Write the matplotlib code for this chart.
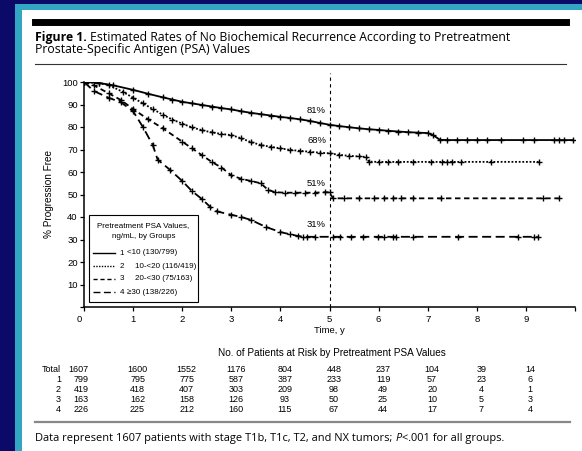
import matplotlib
matplotlib.use("Agg")
import matplotlib.pyplot as plt
from matplotlib.patches import Rectangle
from matplotlib.lines import Line2D
from matplotlib.transforms import blended_transform_factory, ScaledTranslation

W, H = 582, 451

# Kaplan-Meier curves (years, % progression free)
t1 = [0, 0.3, 0.6, 1.0, 1.3, 1.6, 1.8, 2.0, 2.2, 2.4, 2.6, 2.8, 3.0, 3.2, 3.4, 3.6, 3.8, 4.0, 4.2,
      4.4, 4.6, 4.8, 5.0, 5.2, 5.4, 5.6, 5.8, 6.0, 6.2, 6.4, 6.6, 6.8, 7.0, 7.1, 7.25, 7.4, 7.6, 7.8,
      8.0, 8.2, 8.5, 8.94, 9.16, 9.57, 9.67, 9.78, 9.96]
s1 = [100, 99.6, 98.5, 96.5, 94.8, 93.2, 92.2, 91.2, 90.5, 89.8, 89.1, 88.4, 87.8, 87.0, 86.3, 85.7,
      85.1, 84.5, 84.0, 83.4, 82.7, 81.8, 81.0, 80.4, 79.9, 79.4, 79.0, 78.7, 78.3, 78.0, 77.7, 77.5,
      77.3, 76.5, 74.3, 74.2, 74.2, 74.2, 74.2, 74.2, 74.2, 74.2, 74.2, 74.2, 74.2, 74.2, 74.2]

t2 = [0, 0.3, 0.5, 0.8, 1.0, 1.2, 1.4, 1.6, 1.8, 2.0, 2.2, 2.4, 2.6, 2.8, 3.0, 3.2, 3.4, 3.6, 3.8,
      4.0, 4.2, 4.4, 4.6, 4.8, 5.0, 5.2, 5.4, 5.6, 5.75, 5.8, 6.0, 6.2, 6.4, 6.7, 7.06, 7.3, 7.4,
      7.5, 7.67, 8.29, 9.27]
s2 = [100, 99.5, 98.7, 95.5, 93.0, 90.5, 88.0, 85.5, 83.3, 81.5, 79.8, 78.6, 77.6, 76.9, 76.4, 75.0,
      73.3, 72.0, 71.2, 70.5, 69.8, 69.4, 69.0, 68.6, 68.3, 67.6, 67.2, 66.9, 66.7, 64.6, 64.5, 64.5,
      64.5, 64.5, 64.5, 64.5, 64.5, 64.5, 64.5, 64.5, 64.5]

t3 = [0, 0.2, 0.5, 0.75, 1.0, 1.3, 1.6, 2.0, 2.2, 2.4, 2.6, 2.8, 3.0, 3.2, 3.4, 3.6, 3.75, 3.9, 4.1,
      4.3, 4.5, 4.7, 4.9, 5.0, 5.07, 5.3, 5.6, 5.9, 6.1, 6.3, 6.45, 6.7, 7.27, 9.35, 9.67]
s3 = [100, 98.5, 95.0, 92.0, 88.0, 83.5, 79.5, 73.5, 70.5, 67.5, 64.5, 62.0, 58.5, 57.0, 56.0, 55.0,
      52.0, 51.0, 50.8, 50.8, 50.8, 50.8, 51.0, 51.0, 48.3, 48.3, 48.3, 48.3, 48.3, 48.3, 48.3, 48.3,
      48.3, 48.3, 48.3]

t4 = [0, 0.2, 0.5, 0.75, 1.0, 1.2, 1.4, 1.5, 1.75, 2.0, 2.2, 2.4, 2.57, 2.7, 3.0, 3.2, 3.4, 3.7, 4.0,
      4.2, 4.35, 4.47, 4.55, 4.71, 5.08, 5.22, 5.43, 5.69, 5.98, 6.1, 6.29, 6.35, 6.71, 7.61, 8.84,
      9.16, 9.24]
s4 = [100, 96.0, 93.0, 91.0, 87.0, 80.0, 72.0, 65.5, 61.0, 56.0, 51.5, 48.0, 44.5, 42.5, 41.0, 40.0,
      38.7, 35.6, 33.3, 32.3, 31.6, 31.2, 31.2, 31.2, 31.2, 31.2, 31.2, 31.2, 31.2, 31.2, 31.2, 31.2,
      31.2, 31.2, 31.2, 31.2, 31.2]

five_year = ["81%", "68%", "51%", "31%"]
five_year_y = [87.5, 74.0, 55.0, 36.5]

legend_title = ["Pretreatment PSA Values,", "ng/mL, by Groups"]
group_nums = ["1", "2", "3", "4"]
group_ranges = ["<10 (130/799)", "10-<20 (116/419)", "20-<30 (75/163)", "\u226530 (138/226)"]

# patients at risk
risk_years = [0, 1, 2, 3, 4, 5, 6, 7, 8, 9]
risk_rows = ["Total", "1", "2", "3", "4"]
risk_total = [1607, 1600, 1552, 1176, 804, 448, 237, 104, 39, 14]
risk_g1 = [799, 795, 775, 587, 387, 233, 119, 57, 23, 6]
risk_g2 = [419, 418, 407, 303, 209, 98, 49, 20, 4, 1]
risk_g3 = [163, 162, 158, 126, 93, 50, 25, 10, 5, 3]
risk_g4 = [226, 225, 212, 160, 115, 67, 44, 17, 7, 4]

plt.rcParams['font.family'] = ['Liberation Sans', 'DejaVu Sans']
SERIF_ISH = ['Open Sans', 'DejaVu Sans']
NARROW = ['Liberation Sans Narrow', 'Liberation Sans', 'DejaVu Sans']

fig = plt.figure(figsize=(W / 100, H / 100), dpi=100)
fig.patch.set_facecolor('#0c0a68')


def fx(px):
    return px / W


def fy(py):
    return 1 - py / H


fig.patches.append(Rectangle((fx(15), 0), 1, fy(4), transform=fig.transFigure,
                             facecolor='#33a6c4', edgecolor='none', zorder=-3))
fig.patches.append(Rectangle((fx(22), 0), 1, fy(10), transform=fig.transFigure,
                             facecolor='white', edgecolor='none', zorder=-2))

# header rules and title
fig.add_artist(Line2D([fx(35), fx(566)], [fy(21.5), fy(21.5)], color='black', lw=5))
fig.add_artist(Line2D([fx(35), fx(566)], [fy(64), fy(64)], color='#333333', lw=0.8))
tb = fig.text(fx(35), fy(41), "Figure 1.", fontsize=8.8, fontweight='bold',
              family=SERIF_ISH, va='baseline')
fig.canvas.draw()
bb = tb.get_window_extent(fig.canvas.get_renderer())
fig.text(fx(bb.x1 + 3), fy(41), "Estimated Rates of No Biochemical Recurrence According to Pretreatment",
         fontsize=8.8, family=SERIF_ISH, va='baseline')
fig.text(fx(35), fy(53), "Prostate-Specific Antigen (PSA) Values",
         fontsize=8.8, family=SERIF_ISH, va='baseline')

ax = fig.add_axes([fx(84), fy(307), fx(575) - fx(84), fy(82) - fy(307)])
ax.set_facecolor('none')

styles = ['-', (0, (1, 1)), (0, (3, 2)), (0, (5, 2.5))]
for t, s, ls in zip([t1, t2, t3, t4], [s1, s2, s3, s4], styles):
    ax.plot(t, s, color='black', lw=1.3, linestyle=ls, marker='+', ms=4.2, mew=1.0)

ax.plot([5, 5], [0, 104], color='black', lw=0.8, linestyle=(0, (3, 3)), clip_on=False)
for lab, yv in zip(five_year, five_year_y):
    ax.text(4.93, yv, lab, ha='right', va='center', fontsize=6.8)

ax.set_xlim(0, 10)
ax.set_ylim(0, 100)
ax.set_xticks(range(0, 11))
ax.set_xticklabels([str(i) for i in range(10)] + [''])
ax.set_yticks(range(0, 101, 10))
ax.set_yticklabels([''] + [str(i) for i in range(10, 101, 10)])
for sp in ['top', 'right']:
    ax.spines[sp].set_visible(False)
for sp in ['left', 'bottom']:
    ax.spines[sp].set_linewidth(1.1)
ax.tick_params(direction='out', length=3, width=0.9, labelsize=6.8, pad=1.5)
ax.tick_params(axis='x', pad=3)
first = ax.get_xticklabels()[0]
first.set_transform(first.get_transform() + ScaledTranslation(-5 / 100, 0, fig.dpi_scale_trans))
ax.set_xlabel("Time, y", fontsize=6.8, labelpad=1)
ax.set_ylabel("% Progression Free", fontsize=7.2, labelpad=6)

# legend box drawn by hand to keep the original layout
fig.patches.append(Rectangle((fx(89), fy(302)), fx(198) - fx(89), fy(215) - fy(302),
                             transform=fig.transFigure, facecolor='white', edgecolor='black',
                             lw=0.8, zorder=5))
for i, line in enumerate(legend_title):
    fig.text(fx(143.5), fy(226 + 11 * i), line, ha='center', va='center', fontsize=5.8,
             family=NARROW, zorder=6)
for i, (num, rng, ls) in enumerate(zip(group_nums, group_ranges, styles)):
    py = fy(253 + 13 * i)
    fig.add_artist(Line2D([fx(93), fx(115)], [py, py], color='black', lw=1.0, linestyle=ls,
                          zorder=6))
    fig.text(fx(122), py, num, ha='center', va='center', fontsize=5.8, family=NARROW, zorder=6)
    xoff = 127 if i in (0, 3) else 135
    fig.text(fx(xoff), py, rng, ha='left', va='center', fontsize=5.8, family=NARROW, zorder=6)

# at-risk table
trans = blended_transform_factory(ax.transData, fig.transFigure)
fig.text(fx(332), fy(353), "No. of Patients at Risk by Pretreatment PSA Values",
         ha='center', va='center', fontsize=7.2)
row_y = [370, 380, 390, 400, 410]
for lab, vals, py in zip(risk_rows, [risk_total, risk_g1, risk_g2, risk_g3, risk_g4], row_y):
    fig.text(fx(61), fy(py), lab, ha='right', va='center', fontsize=6.5)
    for yr, v in zip(risk_years, vals):
        if yr == 0:
            ax.text(0.09, fy(py), str(v), ha='right', va='center', fontsize=6.5, transform=trans)
        else:
            ax.text(yr + 0.09, fy(py), str(v), ha='center', va='center', fontsize=6.5,
                    transform=trans)

fig.add_artist(Line2D([fx(35), fx(570)], [fy(421.5), fy(421.5)], color='#888888', lw=1.6))
ft = fig.text(fx(35), fy(441), "Data represent 1607 patients with stage T1b, T1c, T2, and NX tumors; ",
              fontsize=7.9, family=SERIF_ISH, va='baseline')
fig.canvas.draw()
bb = ft.get_window_extent(fig.canvas.get_renderer())
fp = fig.text(fx(bb.x1), fy(441), "P", fontsize=7.9, style='italic', family=SERIF_ISH,
              va='baseline')
fig.canvas.draw()
bb = fp.get_window_extent(fig.canvas.get_renderer())
fig.text(fx(bb.x1), fy(441), "<.001 for all groups.", fontsize=7.9, family=SERIF_ISH,
         va='baseline')

fig.savefig("out.png", dpi=100, facecolor=fig.get_facecolor())
